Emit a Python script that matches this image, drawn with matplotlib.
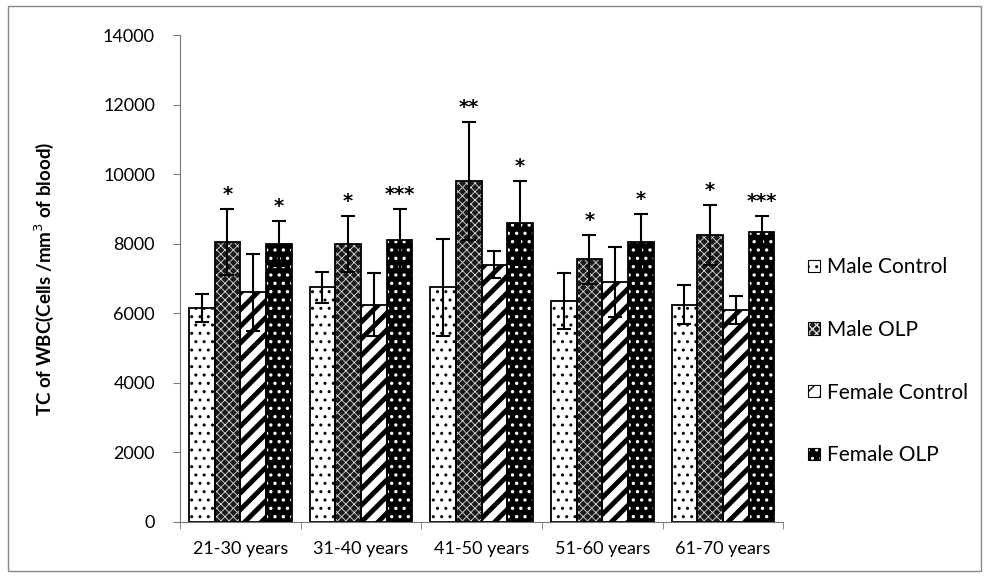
import numpy as np
import matplotlib
matplotlib.use("Agg")
import matplotlib.pyplot as plt
from matplotlib.patches import Patch

plt.rcParams['font.family'] = ['Lato', 'DejaVu Sans']

# data
groups = ["21-30 years", "31-40 years", "41-50 years", "51-60 years", "61-70 years"]
series = ["Male Control", "Male OLP", "Female Control", "Female OLP"]
male_control = [6150, 6750, 6750, 6350, 6250]
male_control_err = [400, 450, 1400, 800, 550]
male_olp = [8050, 8000, 9800, 7550, 8250]
male_olp_err = [950, 800, 1700, 700, 850]
female_control = [6600, 6250, 7400, 6900, 6100]
female_control_err = [1100, 900, 400, 1000, 400]
female_olp = [8000, 8100, 8600, 8050, 8350]
female_olp_err = [650, 900, 1200, 800, 450]
stars_male_olp = ["*", "*", "**", "*", "*"]
stars_female_olp = ["*", "***", "*", "*", "***"]

values = [male_control, male_olp, female_control, female_olp]
errors = [male_control_err, male_olp_err, female_control_err, female_olp_err]
# (facecolor, hatch colour, hatch, hatch linewidth)
styles = [("white", "black", "..", 1.0),
          ("#1a1a1a", "#dddddd", "xxxx", 0.6),
          ("white", "black", "//", 3.5),
          ("black", "white", "..", 1.2)]


def hatched(patch_kw, hlw):
    with plt.rc_context({'hatch.linewidth': hlw}):
        p = Patch(**patch_kw)
    if hasattr(p, "set_hatch_linewidth"):
        p.set_hatch_linewidth(hlw)
    return p


fig = plt.figure(figsize=(9.89, 5.76), dpi=100)
ax = fig.add_axes([0.182, 0.094, 0.610, 0.845])

x = np.arange(len(groups))
w = 0.213
for k in range(4):
    pos = x + (k - 1.5) * w
    fc, hc, hatch, hlw = styles[k]
    with plt.rc_context({'hatch.linewidth': hlw}):
        bars = ax.bar(pos, values[k], w, color=fc, edgecolor=hc, hatch=hatch,
                      linewidth=0, zorder=2)
        for b in bars:
            if hasattr(b, "set_hatch_linewidth"):
                b.set_hatch_linewidth(hlw)
    ax.bar(pos, values[k], w, fill=False, edgecolor="black", linewidth=1.3, zorder=3)
    ax.errorbar(pos, values[k], yerr=errors[k], fmt="none", ecolor="black",
                elinewidth=1.5, capsize=5, capthick=1.5, zorder=4)

for i in range(len(groups)):
    for k, marks in ((1, stars_male_olp), (3, stars_female_olp)):
        top = values[k][i] + errors[k][i]
        ax.text(x[i] + (k - 1.5) * w, top + 150, marks[i], ha="center", va="bottom",
                fontsize=14, fontweight="bold", family="DejaVu Sans")

ax.set_xlim(-0.5, len(groups) - 0.5)
ax.set_ylim(0, 14000)
ax.set_yticks(np.arange(0, 14001, 2000))
ax.set_xticks(x)
ax.set_xticklabels(groups, fontsize=13)
ax.set_xticks(np.arange(-0.5, len(groups), 1), minor=True)
ax.tick_params(axis="x", which="major", length=0, pad=14)
ax.tick_params(axis="x", which="minor", length=5, direction="out", color="#777777")
ax.tick_params(axis="y", length=5, direction="out", color="#777777", labelsize=13, pad=13)
for s in ("top", "right"):
    ax.spines[s].set_visible(False)
for s in ("left", "bottom"):
    ax.spines[s].set_color("#777777")
ax.set_ylabel("TC of WBC(Cells /mm$^3$ of blood)", fontsize=13.5, fontweight="bold", labelpad=34)

handles = []
for k in range(4):
    fc, hc, hatch, hlw = styles[k]
    fill = hatched(dict(facecolor=fc, edgecolor=hc, hatch=hatch, linewidth=0), hlw * 0.7)
    edge = Patch(fill=False, edgecolor="black", linewidth=0.8)
    handles.append((fill, edge))
ax.legend(handles, series, loc="center left", bbox_to_anchor=(1.01, 0.33), frameon=False,
          fontsize=15, labelspacing=2.05, handlelength=0.55, handleheight=0.55,
          handletextpad=0.35)

fig.add_artist(plt.Rectangle((0.008, 0.008), 0.984, 0.982, transform=fig.transFigure,
                             fill=False, edgecolor="#888888", linewidth=1))

fig.savefig("out.png", dpi=100)
